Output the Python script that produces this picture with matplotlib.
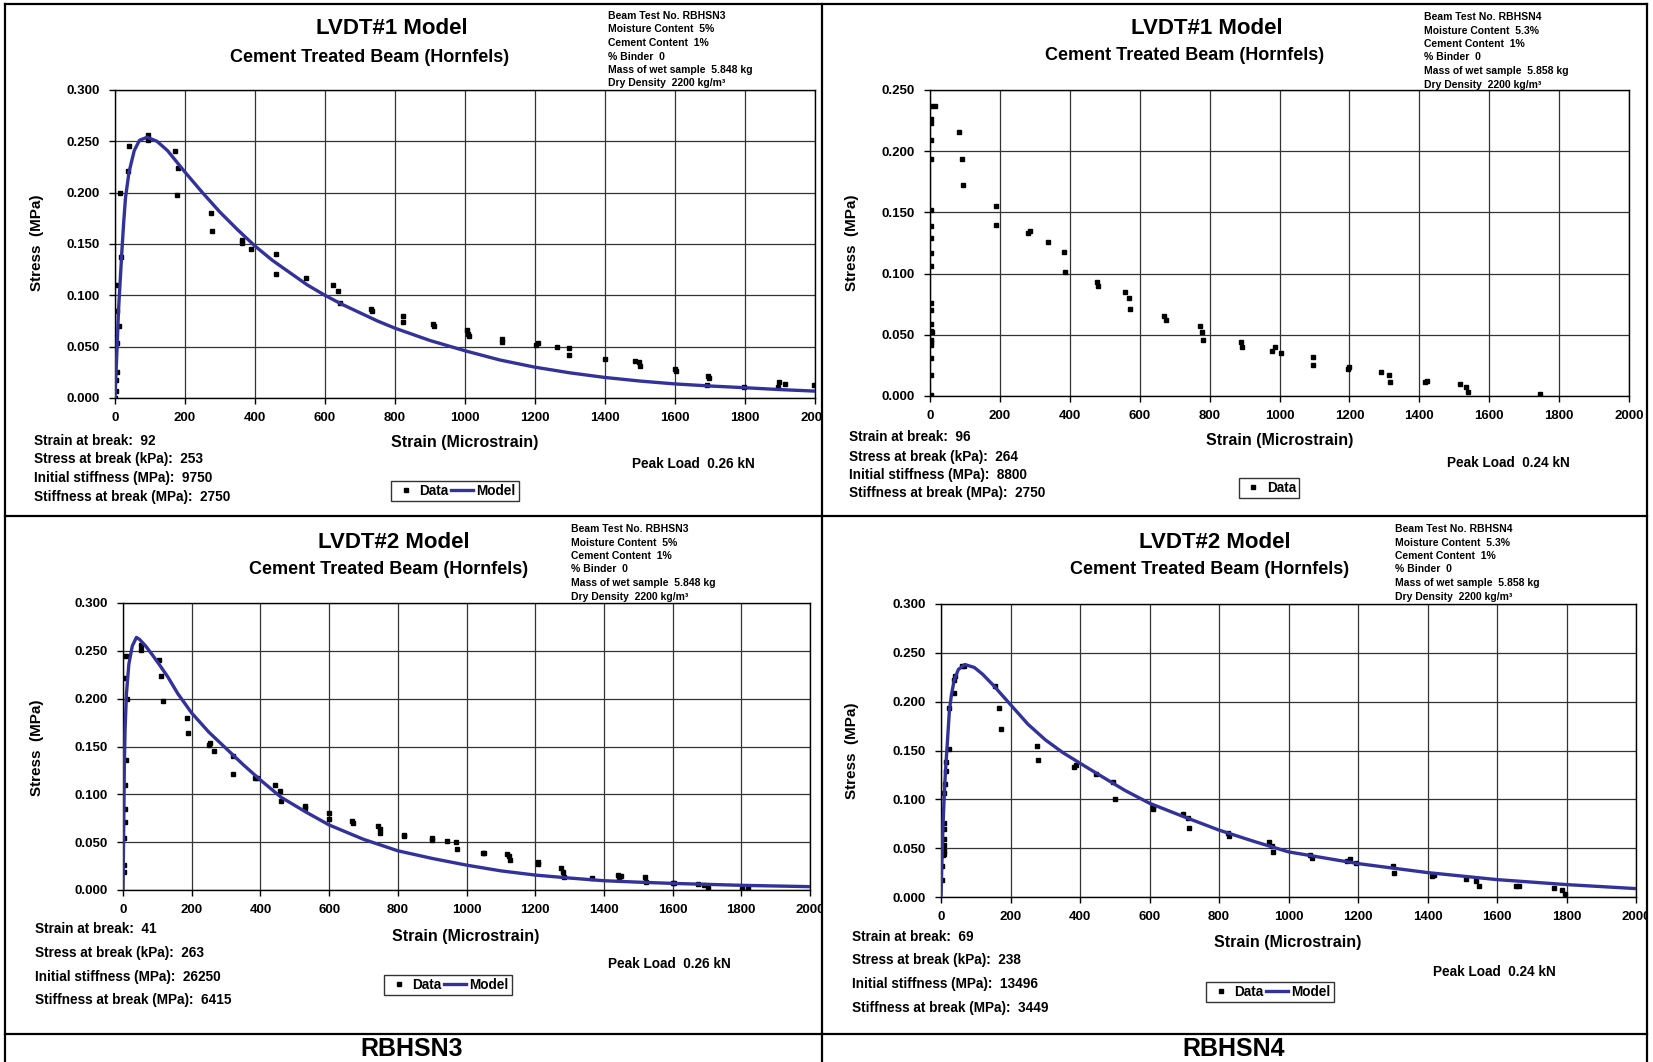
import matplotlib
matplotlib.use("Agg")
import matplotlib.pyplot as plt
from matplotlib.lines import Line2D
from matplotlib.transforms import Bbox, TransformedBbox

plt.rcParams["font.family"] = ["Liberation Sans", "DejaVu Sans"]
plt.rcParams["font.weight"] = "bold"

W, H = 1653, 1062

# =====================================================
# Data
# =====================================================

strain_ticks = [0, 200, 400, 600, 800, 1000, 1200, 1400, 1600, 1800, 2000]

# LVDT#1 - RBHSN3
a_strain = [0, 3, 3, 7, 7, 10, 7, 7, 18, 15, 37, 40, 93, 93, 170, 179, 176,
            274, 277, 362, 364, 389, 460, 460, 545, 624, 638, 642, 732, 734,
            824, 824, 909, 912, 1005, 1008, 1010, 1105, 1107, 1202, 1208, 1264,
            1296, 1296, 1400, 1487, 1496, 1499, 1600, 1602, 1694, 1696, 1691,
            1797, 1897, 1894, 1913, 1997]
a_stress = [0.000, 0.007, 0.018, 0.025, 0.054, 0.070, 0.085, 0.110, 0.137,
            0.200, 0.221, 0.245, 0.256, 0.251, 0.241, 0.224, 0.198, 0.180,
            0.163, 0.154, 0.151, 0.145, 0.140, 0.121, 0.117, 0.110, 0.104,
            0.093, 0.087, 0.085, 0.080, 0.074, 0.072, 0.070, 0.066, 0.062,
            0.060, 0.057, 0.055, 0.052, 0.054, 0.050, 0.049, 0.042, 0.038,
            0.036, 0.035, 0.031, 0.028, 0.026, 0.021, 0.019, 0.013, 0.011,
            0.016, 0.011, 0.014, 0.013]
a_model_strain = [0, 3, 6, 10, 15, 20, 25, 30, 40, 55, 70, 92, 120, 150, 200,
                  250, 300, 350, 400, 450, 500, 550, 600, 650, 700, 750, 800,
                  900, 1000, 1100, 1200, 1300, 1400, 1500, 1600, 1700, 1800,
                  1900, 2000]
a_model_stress = [0.000, 0.025, 0.050, 0.085, 0.115, 0.145, 0.172, 0.195,
                  0.220, 0.241, 0.251, 0.254, 0.250, 0.241, 0.220, 0.200,
                  0.181, 0.164, 0.148, 0.134, 0.122, 0.110, 0.100, 0.091,
                  0.083, 0.075, 0.068, 0.056, 0.046, 0.037, 0.030, 0.0245,
                  0.020, 0.0165, 0.0137, 0.0117, 0.0100, 0.0082, 0.0067]

# LVDT#1 - RBHSN4 (no model)
b_strain = [4, 14, 4, 4, 4, 4, 4, 4, 4, 4, 4, 4, 4, 4, 4, 5, 4, 4, 4, 4, 4, 2,
            82, 91, 95, 189, 189, 279, 285, 339, 382, 385, 477, 481, 559, 569,
            571, 670, 674, 773, 777, 780, 889, 893, 978, 987, 1003, 1096, 1096,
            1195, 1199, 1289, 1313, 1317, 1415, 1423, 1517, 1533, 1538, 1746]
b_stress = [0.237, 0.237, 0.2265, 0.223, 0.209, 0.194, 0.152, 0.139, 0.129,
            0.1165, 0.106, 0.076, 0.070, 0.059, 0.053, 0.052, 0.046, 0.0445,
            0.042, 0.031, 0.0175, 0.0005,
            0.216, 0.194, 0.172, 0.155, 0.140, 0.1335, 0.135, 0.126, 0.118,
            0.101, 0.093, 0.090, 0.0846, 0.080, 0.0707, 0.0655, 0.062, 0.057,
            0.052, 0.046, 0.044, 0.040, 0.037, 0.0397, 0.0353, 0.0318, 0.025,
            0.0223, 0.0236, 0.0193, 0.0171, 0.0117, 0.0111, 0.012, 0.0095,
            0.0073, 0.0033, 0.0019]

# LVDT#2 - RBHSN3
c_strain = [3, 4, 4, 7, 7, 5, 10, 13, 7, 10, 51, 51, 106, 112, 115, 186, 190,
            251, 254, 266, 321, 321, 385, 389, 443, 457, 460, 529, 530, 599,
            601, 668, 669, 743, 747, 749, 817, 819, 900, 900, 944, 969, 972,
            1047, 1051, 1117, 1124, 1127, 1207, 1207, 1275, 1282, 1283, 1365,
            1440, 1444, 1451, 1519, 1522, 1602, 1605, 1675, 1692, 1702, 1801,
            1819]
c_stress = [0.019, 0.026, 0.0545, 0.071, 0.085, 0.110, 0.136, 0.200, 0.2215,
            0.245, 0.256, 0.251, 0.2406, 0.2236, 0.1976, 0.180, 0.164, 0.1517,
            0.154, 0.145, 0.140, 0.1215, 0.117, 0.117, 0.110, 0.104, 0.0934,
            0.0875, 0.086, 0.0806, 0.0747, 0.0722, 0.0705, 0.0667, 0.0635,
            0.060, 0.0576, 0.056, 0.0545, 0.052, 0.0514, 0.050, 0.0424, 0.039,
            0.0389, 0.0372, 0.0354, 0.0316, 0.0288, 0.0267, 0.0226, 0.0188,
            0.0139, 0.0122, 0.016, 0.0122, 0.0146, 0.0139, 0.0083, 0.0073,
            0.0075, 0.0066, 0.0056, 0.0024, 0.001, 0.0017]
c_model_strain = [0, 2, 4, 6, 10, 17, 27, 39, 48, 66, 85, 105, 130, 160, 200,
                  250, 300, 350, 400, 460, 530, 600, 700, 800, 900, 1000, 1100,
                  1200, 1300, 1400, 1500, 1600, 1800, 2000]
c_model_stress = [0.000, 0.0625, 0.132, 0.167, 0.205, 0.236, 0.255, 0.264,
                  0.262, 0.255, 0.246, 0.236, 0.223, 0.205, 0.185, 0.165,
                  0.148, 0.131, 0.115, 0.097, 0.082, 0.068, 0.053, 0.041,
                  0.033, 0.026, 0.020, 0.0156, 0.0125, 0.0097, 0.0082, 0.0069,
                  0.0049, 0.0035]

# LVDT#2 - RBHSN4
d_strain = [2, 2, 5, 8, 8, 7, 8, 8, 8, 8, 8, 11, 14, 14, 24, 24, 38, 38, 39,
            60, 67, 155, 167, 172, 277, 280, 382, 389, 445, 495, 501, 609,
            611, 695, 711, 713, 825, 830, 945, 952, 955, 1063, 1069, 1168,
            1177, 1193, 1301, 1304, 1413, 1419, 1512, 1541, 1547, 1654, 1662,
            1764, 1788, 1796]
d_stress = [0.0178, 0.0315, 0.0435, 0.044, 0.047, 0.052, 0.053, 0.059, 0.070,
            0.076, 0.106, 0.116, 0.129, 0.138, 0.152, 0.194, 0.209, 0.2226,
            0.226, 0.2366, 0.2366, 0.2158, 0.1935, 0.172, 0.155, 0.140, 0.1336,
            0.1353, 0.1257, 0.1178, 0.1007, 0.0925, 0.090, 0.0846, 0.0805,
            0.0705, 0.0658, 0.0623, 0.0568, 0.052, 0.046, 0.0435, 0.040, 0.037,
            0.0394, 0.0346, 0.0315, 0.0243, 0.0219, 0.023, 0.0188, 0.0168,
            0.0113, 0.011, 0.0116, 0.0092, 0.0068, 0.003]
d_model_strain = [0, 3, 6, 10, 14, 19, 24, 30, 38, 50, 69, 96, 120, 150, 200,
                  250, 300, 350, 400, 460, 530, 600, 700, 800, 900, 1000, 1200,
                  1400, 1600, 1800, 2000]
d_model_stress = [0.000, 0.040, 0.075, 0.110, 0.135, 0.162, 0.190, 0.207,
                  0.222, 0.233, 0.238, 0.235, 0.228, 0.217, 0.197, 0.177,
                  0.161, 0.148, 0.137, 0.124, 0.109, 0.096, 0.082, 0.0685,
                  0.057, 0.0462, 0.0342, 0.025, 0.0178, 0.0127, 0.0086]

info_rbhsn3 = ["Beam Test No. RBHSN3", "Moisture Content  5%",
               "Cement Content  1%", "% Binder  0",
               "Mass of wet sample  5.848 kg", "Dry Density  2200 kg/m³"]
info_rbhsn4 = ["Beam Test No. RBHSN4", "Moisture Content  5.3%",
               "Cement Content  1%", "% Binder  0",
               "Mass of wet sample  5.858 kg", "Dry Density  2200 kg/m³"]

a_results = ["Strain at break:  92", "Stress at break (kPa):  253",
             "Initial stiffness (MPa):  9750", "Stiffness at break (MPa):  2750"]
b_results = ["Strain at break:  96", "Stress at break (kPa):  264",
             "Initial stiffness (MPa):  8800", "Stiffness at break (MPa):  2750"]
c_results = ["Strain at break:  41", "Stress at break (kPa):  263",
             "Initial stiffness (MPa):  26250", "Stiffness at break (MPa):  6415"]
d_results = ["Strain at break:  69", "Stress at break (kPa):  238",
             "Initial stiffness (MPa):  13496", "Stiffness at break (MPa):  3449"]

MODEL_COLOR = "#32329a"

fig = plt.figure(figsize=(W / 100, H / 100), dpi=100)
fig.patch.set_facecolor("white")


def fx(x):
    return x / W


def fy(y):
    return 1 - y / H


def text(x, y, s, size, ha="left", va="center", **kw):
    fig.text(fx(x), fy(y), s, fontsize=size, ha=ha, va=va,
             fontweight="bold", **kw)


# =====================================================
# One panel
# =====================================================

def panel(box, clip_x, strain, stress, model_x, model_y, ymax,
          title, title_xy, sub_xy, info, info_xy, results, res_x, res_y,
          peak, peak_xy, xlab_xy, ylab_xy, leg_xy):

    x0, y0, x1, y1 = box
    ax = fig.add_axes([fx(x0), fy(y1), (x1 - x0) / W, (y1 - y0) / H])

    ax.plot(strain, stress, "s", color="black", ms=3.2, ls="none",
            label="Data", zorder=3)
    if model_x is not None:
        ax.plot(model_x, model_y, color=MODEL_COLOR, lw=2.4,
                label="Model", zorder=4, solid_joinstyle="round")

    ax.set_xlim(0, 2000)
    ax.set_ylim(0, ymax)
    ax.set_xticks(strain_ticks)
    yt = [i * 0.05 for i in range(int(round(ymax / 0.05)) + 1)]
    ax.set_yticks(yt)
    ax.set_yticklabels([f"{v:.3f}" for v in yt])
    ax.tick_params(direction="out", length=4, width=1, labelsize=9.5,
                   color="black")
    ax.tick_params(axis="x", pad=6)
    ax.tick_params(axis="y", pad=7)
    for lbl in ax.get_xticklabels() + ax.get_yticklabels():
        lbl.set_fontweight("bold")
    ax.grid(True, color="#333333", lw=0.9)
    ax.set_axisbelow(True)
    for sp in ax.spines.values():
        sp.set_linewidth(1.0)
        sp.set_color("black")

    # tick labels are cut by the panel frame in the original
    cb = TransformedBbox(Bbox.from_extents(0, 0, fx(clip_x), 1),
                         fig.transFigure)
    for lbl in ax.get_xticklabels():
        lbl.set_clip_box(cb)
        lbl.set_clip_on(True)

    text(title_xy[0], title_xy[1], title, 16, ha="center")
    text(sub_xy[0], sub_xy[1], "Cement Treated Beam (Hornfels)", 13,
         ha="center")
    for i, s in enumerate(info):
        text(info_xy[0], info_xy[1] + i * 13.5, s, 7.5)
    for s, yy in zip(results, res_y):
        text(res_x, yy, s, 9.8)
    text(peak_xy[0], peak_xy[1], peak, 9.8)
    text(xlab_xy[0], xlab_xy[1], "Strain (Microstrain)", 11.5, ha="center")
    text(ylab_xy[0], ylab_xy[1], "Stress  (MPa)", 11, ha="center",
         rotation=90)

    leg = ax.legend(loc="center", bbox_to_anchor=(fx(leg_xy[0]), fy(leg_xy[1])),
                    bbox_transform=fig.transFigure, ncol=2, fontsize=9.8,
                    frameon=True, fancybox=False, edgecolor="black",
                    borderpad=0.25, handlelength=1.6, handletextpad=0.2,
                    columnspacing=0.2, borderaxespad=0, markerscale=1.0)
    leg.get_frame().set_linewidth(1.0)
    for t in leg.get_texts():
        t.set_fontweight("bold")
    return ax


panel((115, 90, 815, 398), 822, a_strain, a_stress,
      a_model_strain, a_model_stress, 0.3,
      "LVDT#1 Model", (392, 28), (370, 57), info_rbhsn3, (608, 16),
      a_results, 34, [441, 459, 478, 497],
      "Peak Load  0.26 kN", (632, 464), (465, 443), (37, 243), (455, 491))

panel((930, 90, 1629, 396), 1647, b_strain, b_stress,
      None, None, 0.25,
      "LVDT#1 Model", (1207, 28), (1185, 56), info_rbhsn4, (1424, 17),
      b_results, 849, [437, 457, 475, 493],
      "Peak Load  0.24 kN", (1447, 463), (1280, 441), (852, 243), (1269, 488))

panel((123, 603, 810, 890), 822, c_strain, c_stress,
      c_model_strain, c_model_stress, 0.3,
      "LVDT#2 Model", (394, 542), (389, 570), info_rbhsn3, (571, 529),
      c_results, 35, [929, 953, 977, 1000],
      "Peak Load  0.26 kN", (608, 964), (466, 936), (37, 748), (448, 985))

panel((941, 604, 1636, 897), 1647, d_strain, d_stress,
      d_model_strain, d_model_stress, 0.3,
      "LVDT#2 Model", (1215, 542), (1210, 570), info_rbhsn4, (1395, 529),
      d_results, 852, [937, 960, 984, 1008],
      "Peak Load  0.24 kN", (1433, 972), (1288, 942), (852, 751), (1270, 992))

text(412, 1049, "RBHSN3", 18, ha="center")
text(1234, 1049, "RBHSN4", 18, ha="center")

# frame lines around the four panels
frame = [((5, 5), (4, 1062)), ((822, 822), (4, 1062)), ((1647, 1647), (4, 1062)),
         ((5, 1647), (4, 4)), ((5, 1647), (516, 516)), ((5, 1647), (1034, 1034))]
for xs, ys in frame:
    fig.add_artist(Line2D([fx(v) for v in xs], [fy(v) for v in ys],
                          color="black", lw=1.6))

fig.savefig("out.png", dpi=100)
